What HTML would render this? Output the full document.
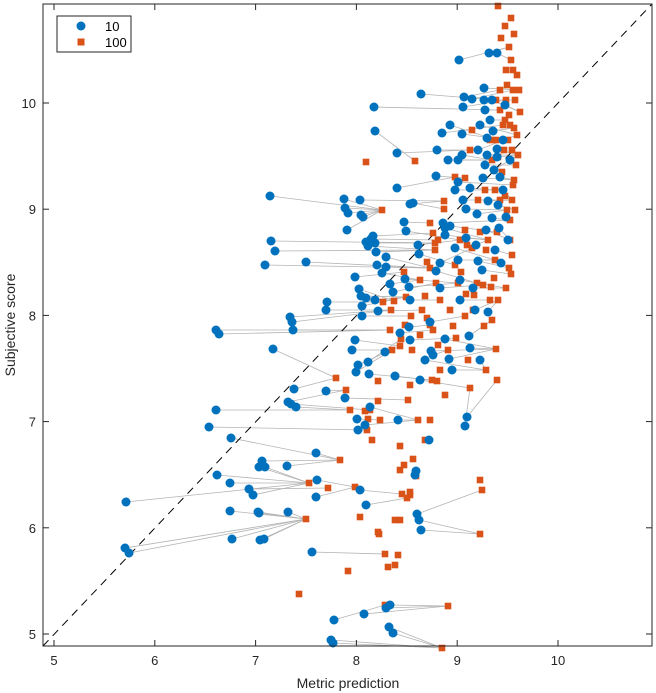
<!DOCTYPE html>
<html><head><meta charset="utf-8"><style>
html,body{margin:0;padding:0;background:#fff;}
svg{display:block;font-family:"Liberation Sans",Arial,sans-serif;}
</style></head><body>
<svg id="s" width="656" height="693" viewBox="0 0 656 693" xmlns="http://www.w3.org/2000/svg">
<rect x="0" y="0" width="656" height="693" fill="#fff"/>
<g id="lines" stroke="#b4b4b4" stroke-width="0.8" fill="none"></g>
<line x1="43" y1="646" x2="652" y2="4" stroke="#000" stroke-width="1" stroke-dasharray="8,6"/>
<g id="pts"></g>
<g id="axes" stroke="#262626" stroke-width="1" fill="none">
<rect x="43" y="4" width="609" height="642"/>
</g>
<g id="ticks" stroke="#262626" stroke-width="1"></g>
<g id="labels" fill="#262626" font-size="13"></g>
<text x="348" y="688" text-anchor="middle" font-size="14" fill="#262626">Metric prediction</text>
<text transform="translate(15,325) rotate(-90)" text-anchor="middle" font-size="14" fill="#262626">Subjective score</text>
<rect x="57" y="16" width="74" height="36" fill="#fff" stroke="#262626" stroke-width="1"/>
<circle cx="81" cy="26" r="4.5" fill="#0072BD"/>
<rect x="77.5" y="38.5" width="7" height="7" fill="#D95319"/>
<text x="105" y="31" font-size="13" fill="#000">10</text>
<text x="105" y="47" font-size="13" fill="#000">100</text>
</svg>
<script>
(function(){
var NS="http://www.w3.org/2000/svg";
function el(t,a,p){var e=document.createElementNS(NS,t);for(var k in a)e.setAttribute(k,a[k]);p.appendChild(e);return e;}
var tk=document.getElementById('ticks'),lb=document.getElementById('labels');
for(var v=5;v<=10;v++){
 var x=54+(v-5)*100.8;
 el('line',{x1:x,y1:646,x2:x,y2:640},tk);el('line',{x1:x,y1:4,x2:x,y2:10},tk);
 var t=el('text',{x:x,y:665,'text-anchor':'middle'},lb);t.textContent=v;
 var y=634-(v-5)*106.2;
 el('line',{x1:43,y1:y,x2:49,y2:y},tk);el('line',{x1:652,y1:y,x2:646,y2:y},tk);
 var t2=el('text',{x:36,y:y+5,'text-anchor':'end'},lb);t2.textContent=v;
}
var B=[[126,502],[125,548],[129,553],[216,330],[219,334],[216,410],[209,427],[217,475],[231,438],[230,483],[230,511],[232,539],[249,489],[253,495],[258,512],[259,467],[262,461],[259,513],[260,540],[273,349],[271,241],[275,251],[265,265],[270,196],[288,512],[287,466],[292,322],[290,317],[293,330],[294,389],[288,402],[291,404],[296,407],[306,262],[312,552],[317,480],[316,497],[316,453],[326,391],[327,302],[326,310],[344,199],[345,208],[348,213],[347,230],[360,200],[361,215],[345,398],[355,340],[358,365],[357,419],[358,430],[363,217],[366,242],[368,246],[371,239],[373,236],[375,243],[376,252],[377,265],[355,277],[359,289],[361,296],[362,306],[362,316],[366,298],[375,300],[368,362],[369,374],[378,311],[382,273],[386,257],[390,284],[393,292],[370,407],[365,425],[360,490],[366,505],[375,131],[374,107],[386,267],[397,188],[404,222],[406,231],[397,153],[400,333],[405,279],[409,287],[410,300],[421,94],[413,203],[410,204],[418,245],[419,254],[409,327],[410,340],[430,322],[431,351],[433,355],[436,176],[437,150],[442,133],[443,223],[445,228],[445,235],[450,226],[440,263],[436,271],[440,288],[445,339],[449,359],[452,370],[429,440],[416,471],[415,475],[417,514],[419,520],[421,530],[459,60],[464,97],[463,107],[462,134],[462,155],[458,160],[458,182],[463,200],[466,209],[472,99],[484,88],[484,100],[489,53],[497,53],[485,110],[490,120],[493,131],[497,149],[497,157],[500,177],[503,190],[506,217],[508,240],[499,228],[492,218],[488,201],[483,178],[485,165],[487,155],[477,214],[476,245],[478,261],[473,288],[475,310],[469,336],[470,348],[467,417],[465,426],[460,280],[466,238],[455,248],[458,260],[460,300],[386,608],[390,605],[393,633],[389,627],[364,614],[331,640],[334,620],[333,643],[265,467],[264,539],[356,372],[352,350],[398,420],[395,376],[385,352],[420,380],[425,360],[480,360],[486,230],[495,250],[501,263],[498,205],[503,140],[492,100],[487,138],[478,150],[470,188],[455,190],[448,160],[450,125],[480,125],[494,170],[505,105],[510,160],[482,270],[488,312]];
var O=[[366,162],[415,161],[382,210],[430,223],[444,209],[444,201],[455,177],[465,178],[465,230],[467,245],[472,248],[461,272],[458,283],[433,233],[435,243],[438,240],[435,250],[427,262],[430,268],[436,283],[425,296],[422,310],[427,318],[430,325],[433,330],[438,345],[440,370],[437,381],[448,350],[453,326],[456,338],[465,316],[466,294],[474,295],[473,310],[477,283],[483,285],[491,287],[494,278],[490,300],[484,326],[497,380],[496,349],[486,370],[470,388],[468,360],[404,272],[406,297],[405,325],[411,316],[400,346],[401,339],[394,301],[391,310],[383,302],[378,381],[378,401],[370,410],[367,430],[365,411],[368,419],[410,385],[408,400],[418,420],[432,380],[430,420],[425,440],[400,446],[404,465],[413,459],[400,470],[402,494],[410,495],[407,498],[400,520],[395,520],[379,534],[378,532],[385,554],[388,567],[395,565],[398,555],[385,605],[348,571],[360,517],[299,594],[306,519],[309,483],[328,488],[355,487],[410,492],[416,476],[448,606],[442,648],[480,480],[482,490],[480,534],[336,378],[346,390],[350,410],[480,232],[488,240],[497,232],[505,196],[507,210],[510,240],[509,268],[511,274],[514,180],[512,200],[513,185],[518,155],[517,135],[520,112],[515,100],[513,90],[513,70],[511,60],[511,18],[514,34],[509,47],[498,6],[505,26],[501,38],[507,85],[506,100],[505,120],[508,140],[502,172],[498,157],[500,110],[503,125],[496,140],[510,125],[512,150],[516,165],[504,150],[509,115],[514,128],[500,90],[496,100],[506,70],[517,75],[519,90],[492,160],[495,190],[510,220],[512,255],[506,288],[498,300],[486,250],[478,200],[470,150],[472,130],[490,140],[485,190],[500,200],[515,210],[440,300],[450,310],[455,265],[420,280],[412,350],[420,335],[445,395],[460,240],[492,320],[495,260],[390,330],[392,350],[380,420],[372,440],[340,460]];
var L=document.getElementById('lines'),P=document.getElementById('pts');
for(var i=0;i<B.length;i++){
 var b=B[i],best=-1,bs=1e9;
 for(var j=0;j<O.length;j++){var o=O[j];var dx=o[0]-b[0];if(dx<-5)continue;var s=Math.abs(o[1]-b[1])*1.2+Math.abs(dx-40)*0.6+((i*7+j*13)%29);if(s<bs){bs=s;best=j;}}
 if(best>=0)el('line',{x1:b[0],y1:b[1],x2:O[best][0],y2:O[best][1]},L);
}
for(var j=0;j<O.length;j++){var o=O[j];el('rect',{x:o[0]-3.3,y:o[1]-3.3,width:6.6,height:6.6,fill:'#D95319'},P);}
for(var i=0;i<B.length;i++){var b=B[i];el('circle',{cx:b[0],cy:b[1],r:4.5,fill:'#0072BD'},P);}
})();
</script>
</body></html>
